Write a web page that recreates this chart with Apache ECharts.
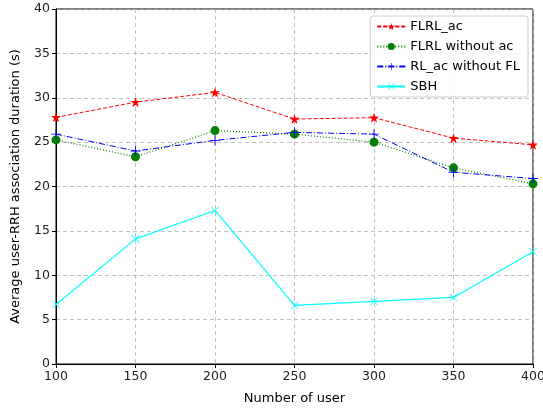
<!DOCTYPE html>
<html><head><meta charset="utf-8">
<script src="https://cdn.jsdelivr.net/npm/echarts@6/dist/echarts.min.js"></script>
<style>html,body{margin:0;padding:0;background:#fff}#c{width:543px;height:409px}</style>
</head><body><div id="c"></div>
<script>
const users = [100, 150, 200, 250, 300, 350, 400];
const flrlAc = [27.8, 29.5, 30.6, 27.6, 27.75, 25.45, 24.7];
const flrlNoAc = [25.25, 23.35, 26.3, 25.9, 25.0, 22.1, 20.3];
const rlAcNoFl = [25.9, 24.0, 25.2, 26.1, 25.9, 21.6, 20.9];
const sbh = [6.7, 14.1, 17.3, 6.6, 7.05, 7.5, 12.65];
const yTicks = [0, 5, 10, 15, 20, 25, 30, 35, 40];
const xTicks = [100, 150, 200, 250, 300, 350, 400];

const starPath = 'path://M0,-1 L0.2245,-0.309 L0.951,-0.309 L0.363,0.118 L0.588,0.809 L0,0.382 L-0.588,0.809 L-0.363,0.118 L-0.951,-0.309 L-0.2245,-0.309 Z';
const plusPath = 'path://M-0.09,-1 H0.09 V-0.09 H1 V0.09 H0.09 V1 H-0.09 V0.09 H-1 V-0.09 H-0.09 Z';
const xPath = 'path://M-1,-0.87 L-0.87,-1 L0,-0.13 L0.87,-1 L1,-0.87 L0.13,0 L1,0.87 L0.87,1 L0,0.13 L-0.87,1 L-1,0.87 L-0.13,0 Z';

function pairs(arr){ return users.map((u,i)=>[u, arr[i]]); }
const font = 'DejaVu Sans';
const chart = echarts.init(document.getElementById('c'));
chart.setOption({
  animation: false,
  textStyle: {fontFamily: font},
  grid: {left: 56, right: 10, top: 9, bottom: 45, show: true, borderColor: '#000', borderWidth: 1,
         containLabel: false, outerBoundsMode: 'none'},
  legend: {
    right: 15, top: 16, orient: 'vertical', itemGap: 5,
    backgroundColor: 'rgba(255,255,255,0.85)', borderColor: '#ccc', borderWidth: 1, borderRadius: 3,
    padding: [3, 8, 3, 6], itemWidth: 28, itemHeight: 9,
    textStyle: {fontFamily: font, fontSize: 13, color: '#000', lineHeight: 15},
    data: ['FLRL_ac', 'FLRL without ac', 'RL_ac without FL', 'SBH']
  },
  xAxis: {
    type: 'value', min: 100, max: 400, interval: 50,
    name: 'Number of user', nameLocation: 'middle', nameGap: 28,
    nameTextStyle: {fontFamily: font, fontSize: 13, color: '#000'},
    axisLine: {lineStyle: {color: '#000'}},
    axisTick: {show: true, inside: false, length: 4, lineStyle: {color: '#000'}},
    axisLabel: {fontFamily: font, fontSize: 12.5, color: '#222', margin: 6,
      formatter: v => xTicks.includes(v) ? String(v) : ''},
    splitLine: {show: true, lineStyle: {color: '#b0b0b0', type: [4, 3], width: 0.8}}
  },
  yAxis: {
    type: 'value', min: 0, max: 40, interval: 5,
    name: 'Average user-RRH association duration (s)', nameLocation: 'middle', nameGap: 34,
    nameTextStyle: {fontFamily: font, fontSize: 13, color: '#000'},
    axisLine: {show: true, lineStyle: {color: '#000'}},
    axisTick: {show: true, inside: false, length: 4, lineStyle: {color: '#000'}},
    axisLabel: {fontFamily: font, fontSize: 12.5, color: '#222', margin: 6,
      formatter: v => yTicks.includes(v) ? String(v) : ''},
    splitLine: {show: true, lineStyle: {color: '#b0b0b0', type: [4, 3], width: 0.8}}
  },
  series: [
    {name: 'FLRL_ac', type: 'line', data: pairs(flrlAc), symbol: starPath, symbolSize: 10,
     itemStyle: {color: '#ff0000'}, lineStyle: {color: '#ff0000', width: 1, type: [4, 2]}},
    {name: 'FLRL without ac', type: 'line', data: pairs(flrlNoAc), symbol: 'circle', symbolSize: 9,
     itemStyle: {color: '#008000'}, lineStyle: {color: '#008000', width: 1.2, type: [1, 2]}},
    {name: 'RL_ac without FL', type: 'line', data: pairs(rlAcNoFl), symbol: plusPath, symbolSize: 10,
     itemStyle: {color: '#0000ff'}, lineStyle: {color: '#0000ff', width: 1, type: [6, 2, 1, 2]}},
    {name: 'SBH', type: 'line', data: pairs(sbh), symbol: xPath, symbolSize: 8,
     itemStyle: {color: '#00ffff'}, lineStyle: {color: '#00ffff', width: 1.2}}
  ]
});
</script></body></html>
